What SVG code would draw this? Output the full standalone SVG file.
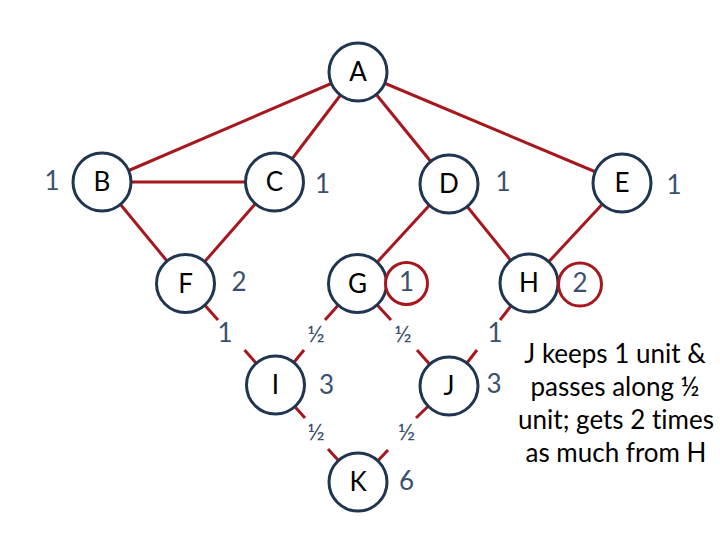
<svg xmlns="http://www.w3.org/2000/svg" width="720" height="540" viewBox="0 0 720 540">
<style>
.e{stroke:#A6171F;stroke-width:3;fill:none}
.n{fill:#fff;stroke:#1F3550;stroke-width:3}
.rc{fill:#fff;stroke:#A6171F;stroke-width:3}
text{font-variant-ligatures:none}
.t{font-family:Lato,"Liberation Sans",sans-serif;font-size:26px;fill:#000;text-anchor:middle}
.v{font-family:Lato,"Liberation Sans",sans-serif;font-size:26px;fill:#3B5070;text-anchor:middle}
.h{font-family:Lato,"Liberation Sans",sans-serif;font-size:24px;fill:#3B5070;text-anchor:middle}
.d{font-family:Lato,"Liberation Sans",sans-serif;font-size:26px;fill:#000;text-anchor:middle}
</style>
<rect width="720" height="540" fill="#fff"/>
<g id="connectors">
<line class="e" x1="358" y1="72" x2="102" y2="182"/>
<line class="e" x1="358" y1="72" x2="274.5" y2="182"/>
<line class="e" x1="358" y1="72" x2="449" y2="184"/>
<line class="e" x1="358" y1="72" x2="622" y2="183"/>
<line class="e" x1="102" y1="182" x2="274.5" y2="182"/>
<line class="e" x1="102" y1="182" x2="185.5" y2="283.5"/>
<line class="e" x1="274.5" y1="182" x2="185.5" y2="283.5"/>
<line class="e" x1="449" y1="184" x2="357.5" y2="283.5"/>
<line class="e" x1="449" y1="184" x2="529" y2="283"/>
<line class="e" x1="622" y1="183" x2="529" y2="283"/>
<line class="e" x1="185.5" y1="283.5" x2="218" y2="320"/>
<line class="e" x1="244.5" y1="350" x2="275.5" y2="385"/>
<line class="e" x1="357.5" y1="283.5" x2="325" y2="320"/>
<line class="e" x1="304" y1="350" x2="275.5" y2="385"/>
<line class="e" x1="357.5" y1="283.5" x2="391" y2="320"/>
<line class="e" x1="417" y1="350" x2="449" y2="386"/>
<line class="e" x1="529" y1="283" x2="500" y2="320"/>
<line class="e" x1="477" y1="350" x2="449" y2="386"/>
<line class="e" x1="275.5" y1="385" x2="305" y2="418"/>
<line class="e" x1="328" y1="449" x2="358" y2="482"/>
<line class="e" x1="449" y1="386" x2="416" y2="418"/>
<line class="e" x1="388" y1="450" x2="358" y2="482"/>
</g>
<g id="A"><circle class="n" cx="358" cy="72" r="29"/><text class="t" x="358" y="81">A</text></g>
<g id="B"><circle class="n" cx="102" cy="182" r="29"/><text class="t" x="102" y="191">B</text><text class="v" x="52" y="190">1</text></g>
<g id="C"><circle class="n" cx="274.5" cy="182" r="29"/><text class="t" x="274.5" y="191">C</text><text class="v" x="322.5" y="193">1</text></g>
<g id="D"><circle class="n" cx="449" cy="184" r="29"/><text class="t" x="449" y="193">D</text><text class="v" x="503" y="191">1</text></g>
<g id="E"><circle class="n" cx="622" cy="183" r="29"/><text class="t" x="622" y="192">E</text><text class="v" x="674" y="194">1</text></g>
<g id="F"><circle class="n" cx="185.5" cy="283.5" r="29"/><text class="t" x="185.5" y="292.5">F</text><text class="v" x="239" y="291">2</text></g>
<g id="G"><circle class="n" cx="357.5" cy="283.5" r="29"/><text class="t" x="357.5" y="292.5">G</text><circle class="rc" cx="406.5" cy="283.5" r="21"/><text class="v" x="406.5" y="291">1</text></g>
<g id="H"><circle class="n" cx="529" cy="283" r="29"/><text class="t" x="529" y="292">H</text><circle class="rc" cx="580" cy="284.5" r="21.5"/><text class="v" x="580" y="292">2</text></g>
<g id="I"><circle class="n" cx="275.5" cy="385" r="29"/><text class="t" x="275.5" y="394">I</text><text class="v" x="326.5" y="394">3</text></g>
<g id="J"><circle class="n" cx="449" cy="386" r="29"/><text class="t" x="449" y="395">J</text><text class="v" x="494" y="393">3</text></g>
<g id="K"><circle class="n" cx="358" cy="482" r="29"/><text class="t" x="358" y="491">K</text><text class="v" x="406.5" y="490">6</text></g>
<g id="edge-labels">
<text class="v" x="225" y="342">1</text>
<text class="h" x="316" y="342">½</text>
<text class="h" x="403" y="342">½</text>
<text class="v" x="495" y="342">1</text>
<text class="h" x="316" y="440">½</text>
<text class="h" x="406.5" y="440">½</text>
</g>
<g id="note">
<text class="d" x="615" y="363">J keeps 1 unit &amp;</text>
<text class="d" x="615" y="396">passes along ½</text>
<text class="d" x="616" y="429">unit; gets 2 times</text>
<text class="d" x="616" y="462">as much from H</text>
</g>
</svg>
